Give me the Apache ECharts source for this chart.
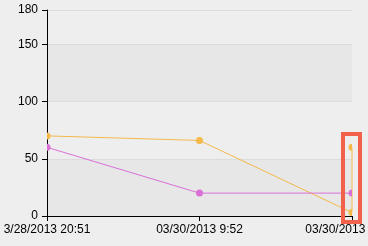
<!DOCTYPE html>
<html>
<head>
<meta charset="utf-8">
<script src="https://cdn.jsdelivr.net/npm/echarts@6/dist/echarts.min.js"></script>
<style>
html,body{margin:0;padding:0;background:#eeeeee;}
#chart{width:368px;height:246px;}
</style>
</head>
<body>
<div id="chart"></div>
<script>
var categories = ["3/28/2013 20:51", "03/30/2013 9:52", "03/30/2013 20:51"];
// [category index, value]
var seriesA = [[0, 70], [1, 66], [2, 3], [2, 60]];
var seriesB = [[0, 60], [1, 20], [2, 20]];
var yTicks = { min: 0, max: 180, interval: 50 };

var colorA = '#f5b94a';
var colorB = '#da70d6';

function dotSeries(data, color) {
  return {
    type: 'custom',
    clip: true,
    z: 3,
    data: data,
    encode: { x: 0, y: 1 },
    renderItem: function (params, api) {
      var p = api.coord([api.value(0), api.value(1)]);
      return { type: 'circle', shape: { cx: p[0], cy: p[1], r: 3.5 }, style: { fill: color } };
    }
  };
}

var chart = echarts.init(document.getElementById('chart'), null, { renderer: 'canvas' });
chart.setOption({
  animation: false,
  backgroundColor: '#eeeeee',
  textStyle: { fontFamily: 'Liberation Sans' },
  grid: { left: 47, right: 16, top: 10, bottom: 30, containLabel: false, outerBoundsMode: 'none' },
  xAxis: {
    type: 'category',
    data: categories,
    boundaryGap: false,
    axisLine: { lineStyle: { color: '#000', width: 1 } },
    axisTick: { length: 5, lineStyle: { color: '#000' } },
    axisLabel: { color: '#000', fontSize: 12, margin: 8, fontFamily: 'Liberation Sans', interval: 0, hideOverlap: false },
    splitLine: { show: false }
  },
  yAxis: {
    type: 'value',
    min: yTicks.min,
    max: yTicks.max,
    interval: yTicks.interval,
    axisLine: { show: true, lineStyle: { color: '#000', width: 1 } },
    axisTick: { show: true, length: 5, lineStyle: { color: '#000' } },
    axisLabel: { color: '#000', fontSize: 12, margin: 9, fontFamily: 'Liberation Sans' },
    splitLine: { show: true, lineStyle: { color: '#dcdcdc', width: 1 } },
    splitArea: { show: true, areaStyle: { color: ['#e7e7e7', '#eeeeee'] } }
  },
  series: [
    {
      type: 'line', data: seriesA, showSymbol: false, symbol: 'none',
      lineStyle: { color: colorA, width: 1 }, itemStyle: { color: colorA }, z: 2
    },
    {
      type: 'line', data: seriesB, showSymbol: false, symbol: 'none',
      lineStyle: { color: colorB, width: 1 }, itemStyle: { color: colorB }, z: 2
    },
    dotSeries(seriesA, colorA),
    dotSeries(seriesB, colorB)
  ],
  graphic: [
    {
      type: 'rect', z: 100,
      shape: { x: 343, y: 134, width: 17, height: 88 },
      style: { fill: 'none', stroke: '#f2614b', lineWidth: 4 }
    }
  ]
});
</script>
</body>
</html>
